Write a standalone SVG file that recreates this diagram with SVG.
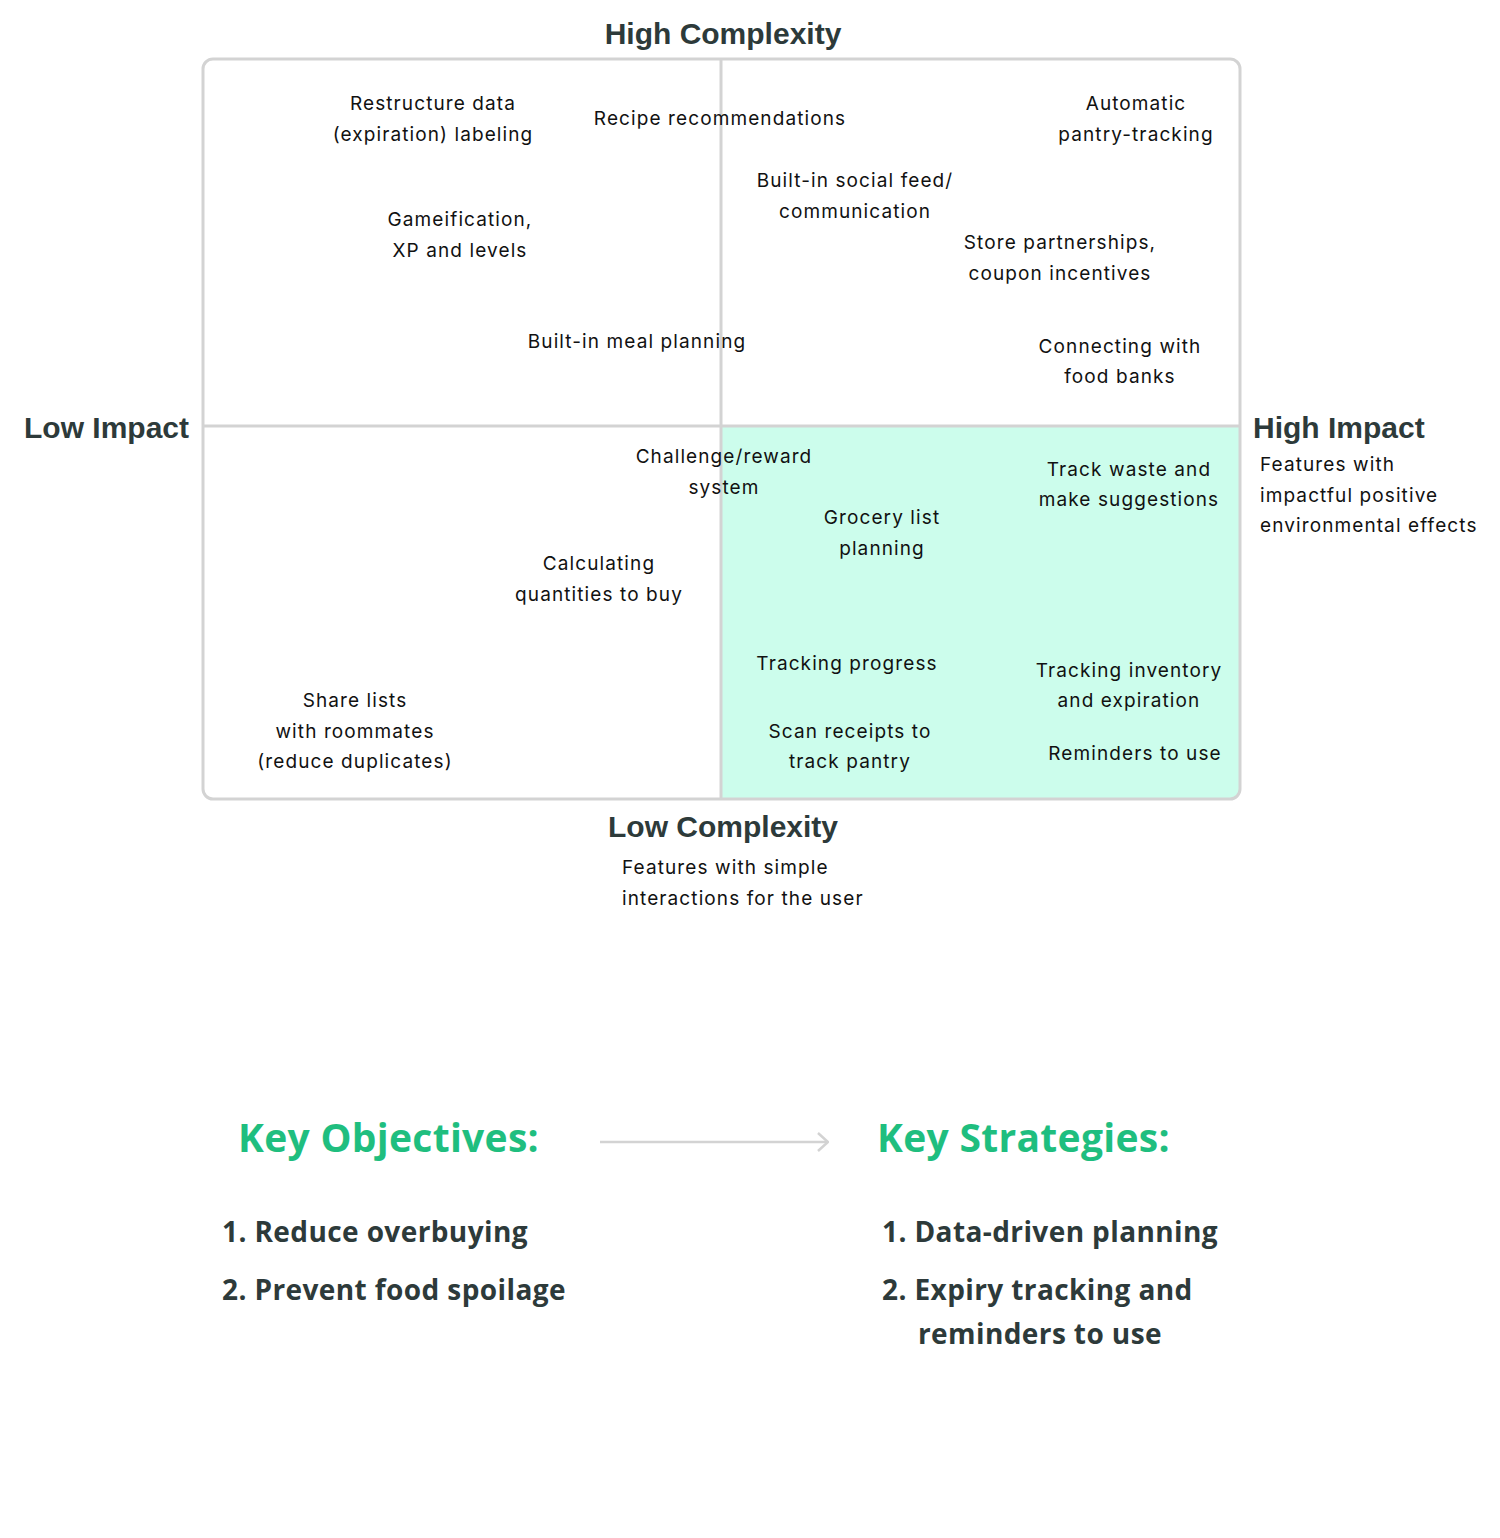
<svg xmlns="http://www.w3.org/2000/svg" width="1500" height="1538" viewBox="0 0 1500 1538">
<defs>
<style>
.it{font-family:Inter,"Open Sans","Liberation Sans",sans-serif;font-size:19px;letter-spacing:1.1px;fill:#111;text-anchor:middle}
.note{font-family:Inter,"Open Sans","Liberation Sans",sans-serif;font-size:19px;letter-spacing:1.1px;fill:#111}
.ax{font-family:"Liberation Sans","Open Sans",sans-serif;font-size:30px;font-weight:bold;fill:#2d3a3a}
.kh{font-family:"Open Sans","Liberation Sans",sans-serif;font-size:39px;font-weight:bold;letter-spacing:0.3px;fill:#1fbe7f}
.kl{font-family:"Open Sans","Liberation Sans",sans-serif;font-size:28px;font-weight:700;letter-spacing:0.4px;fill:#2d3a3a}
.grid{stroke:#d3d3d3;stroke-width:3;fill:none}
</style>
<marker id="chev" viewBox="0 0 12 20" refX="11" refY="10" markerWidth="12" markerHeight="20" markerUnits="userSpaceOnUse" orient="auto">
<path d="M1,1 L11,10 L1,19" fill="none" stroke="#d3d3d3" stroke-width="2.5"/>
</marker>
</defs>
<rect width="1500" height="1538" fill="#fff"/>
<g id="matrix">
<path d="M721,426 H1240 V789 A10,10 0 0 1 1230,799 H721 Z" fill="#ccfdec"/>
<rect class="grid" x="203" y="59" width="1037" height="740" rx="10"/>
<line class="grid" x1="721" y1="59" x2="721" y2="799"/>
<line class="grid" x1="203" y1="426" x2="1240" y2="426"/>
</g>
<g id="axis-labels">
<text class="ax" x="723" y="44" text-anchor="middle">High Complexity</text>
<text class="ax" x="723" y="837" text-anchor="middle">Low Complexity</text>
<text class="ax" x="24" y="438">Low Impact</text>
<text class="ax" x="1253" y="438">High Impact</text>
<text class="note" x="1260"><tspan x="1260" y="471">Features with</tspan><tspan x="1260" y="502">impactful positive</tspan><tspan x="1260" y="532">environmental effects</tspan></text>
<text class="note" x="622"><tspan x="622" y="874">Features with simple</tspan><tspan x="622" y="905">interactions for the user</tspan></text>
</g>
<g id="n-restructure"><text class="it"><tspan x="433" y="110">Restructure data</tspan><tspan x="433" y="141">(expiration) labeling</tspan></text></g>
<g id="n-recipe"><text class="it" x="720" y="125">Recipe recommendations</text></g>
<g id="n-pantry"><text class="it"><tspan x="1136" y="110">Automatic</tspan><tspan x="1136" y="141">pantry-tracking</tspan></text></g>
<g id="n-social"><text class="it"><tspan x="855" y="187">Built-in social feed/</tspan><tspan x="855" y="218">communication</tspan></text></g>
<g id="n-game"><text class="it"><tspan x="460" y="226">Gameification,</tspan><tspan x="460" y="257">XP and levels</tspan></text></g>
<g id="n-store"><text class="it"><tspan x="1060" y="249">Store partnerships,</tspan><tspan x="1060" y="280">coupon incentives</tspan></text></g>
<g id="n-meal"><text class="it" x="637" y="348">Built-in meal planning</text></g>
<g id="n-foodbanks"><text class="it"><tspan x="1120" y="353">Connecting with</tspan><tspan x="1120" y="383">food banks</tspan></text></g>
<g id="n-challenge"><text class="it"><tspan x="724" y="463">Challenge/reward</tspan><tspan x="724" y="494">system</tspan></text></g>
<g id="n-waste"><text class="it"><tspan x="1129" y="476">Track waste and</tspan><tspan x="1129" y="506">make suggestions</tspan></text></g>
<g id="n-grocery"><text class="it"><tspan x="882" y="524">Grocery list</tspan><tspan x="882" y="555">planning</tspan></text></g>
<g id="n-quantities"><text class="it"><tspan x="599" y="570">Calculating</tspan><tspan x="599" y="601">quantities to buy</tspan></text></g>
<g id="n-progress"><text class="it" x="847" y="670">Tracking progress</text></g>
<g id="n-inventory"><text class="it"><tspan x="1129" y="677">Tracking inventory</tspan><tspan x="1129" y="707">and expiration</tspan></text></g>
<g id="n-share"><text class="it"><tspan x="355" y="707">Share lists</tspan><tspan x="355" y="738">with roommates</tspan><tspan x="355" y="768">(reduce duplicates)</tspan></text></g>
<g id="n-scan"><text class="it"><tspan x="850" y="738">Scan receipts to</tspan><tspan x="850" y="768">track pantry</tspan></text></g>
<g id="n-reminders"><text class="it" x="1135" y="760">Reminders to use</text></g>
<g id="n-objectives">
<text class="kh" x="238" y="1152">Key Objectives:</text>
<text class="kl" x="222" y="1242">1. Reduce overbuying</text>
<text class="kl" x="222" y="1300">2. Prevent food spoilage</text>
</g>
<g id="n-strategies">
<text class="kh" x="877" y="1152">Key Strategies:</text>
<text class="kl" x="882" y="1242">1. Data-driven planning</text>
<text class="kl" x="882" y="1300">2. Expiry tracking and</text>
<text class="kl" x="918" y="1344">reminders to use</text>
</g>
<g id="connectors">
<line x1="600" y1="1142" x2="828" y2="1142" stroke="#d3d3d3" stroke-width="2.5" marker-end="url(#chev)"/>
</g>
</svg>
